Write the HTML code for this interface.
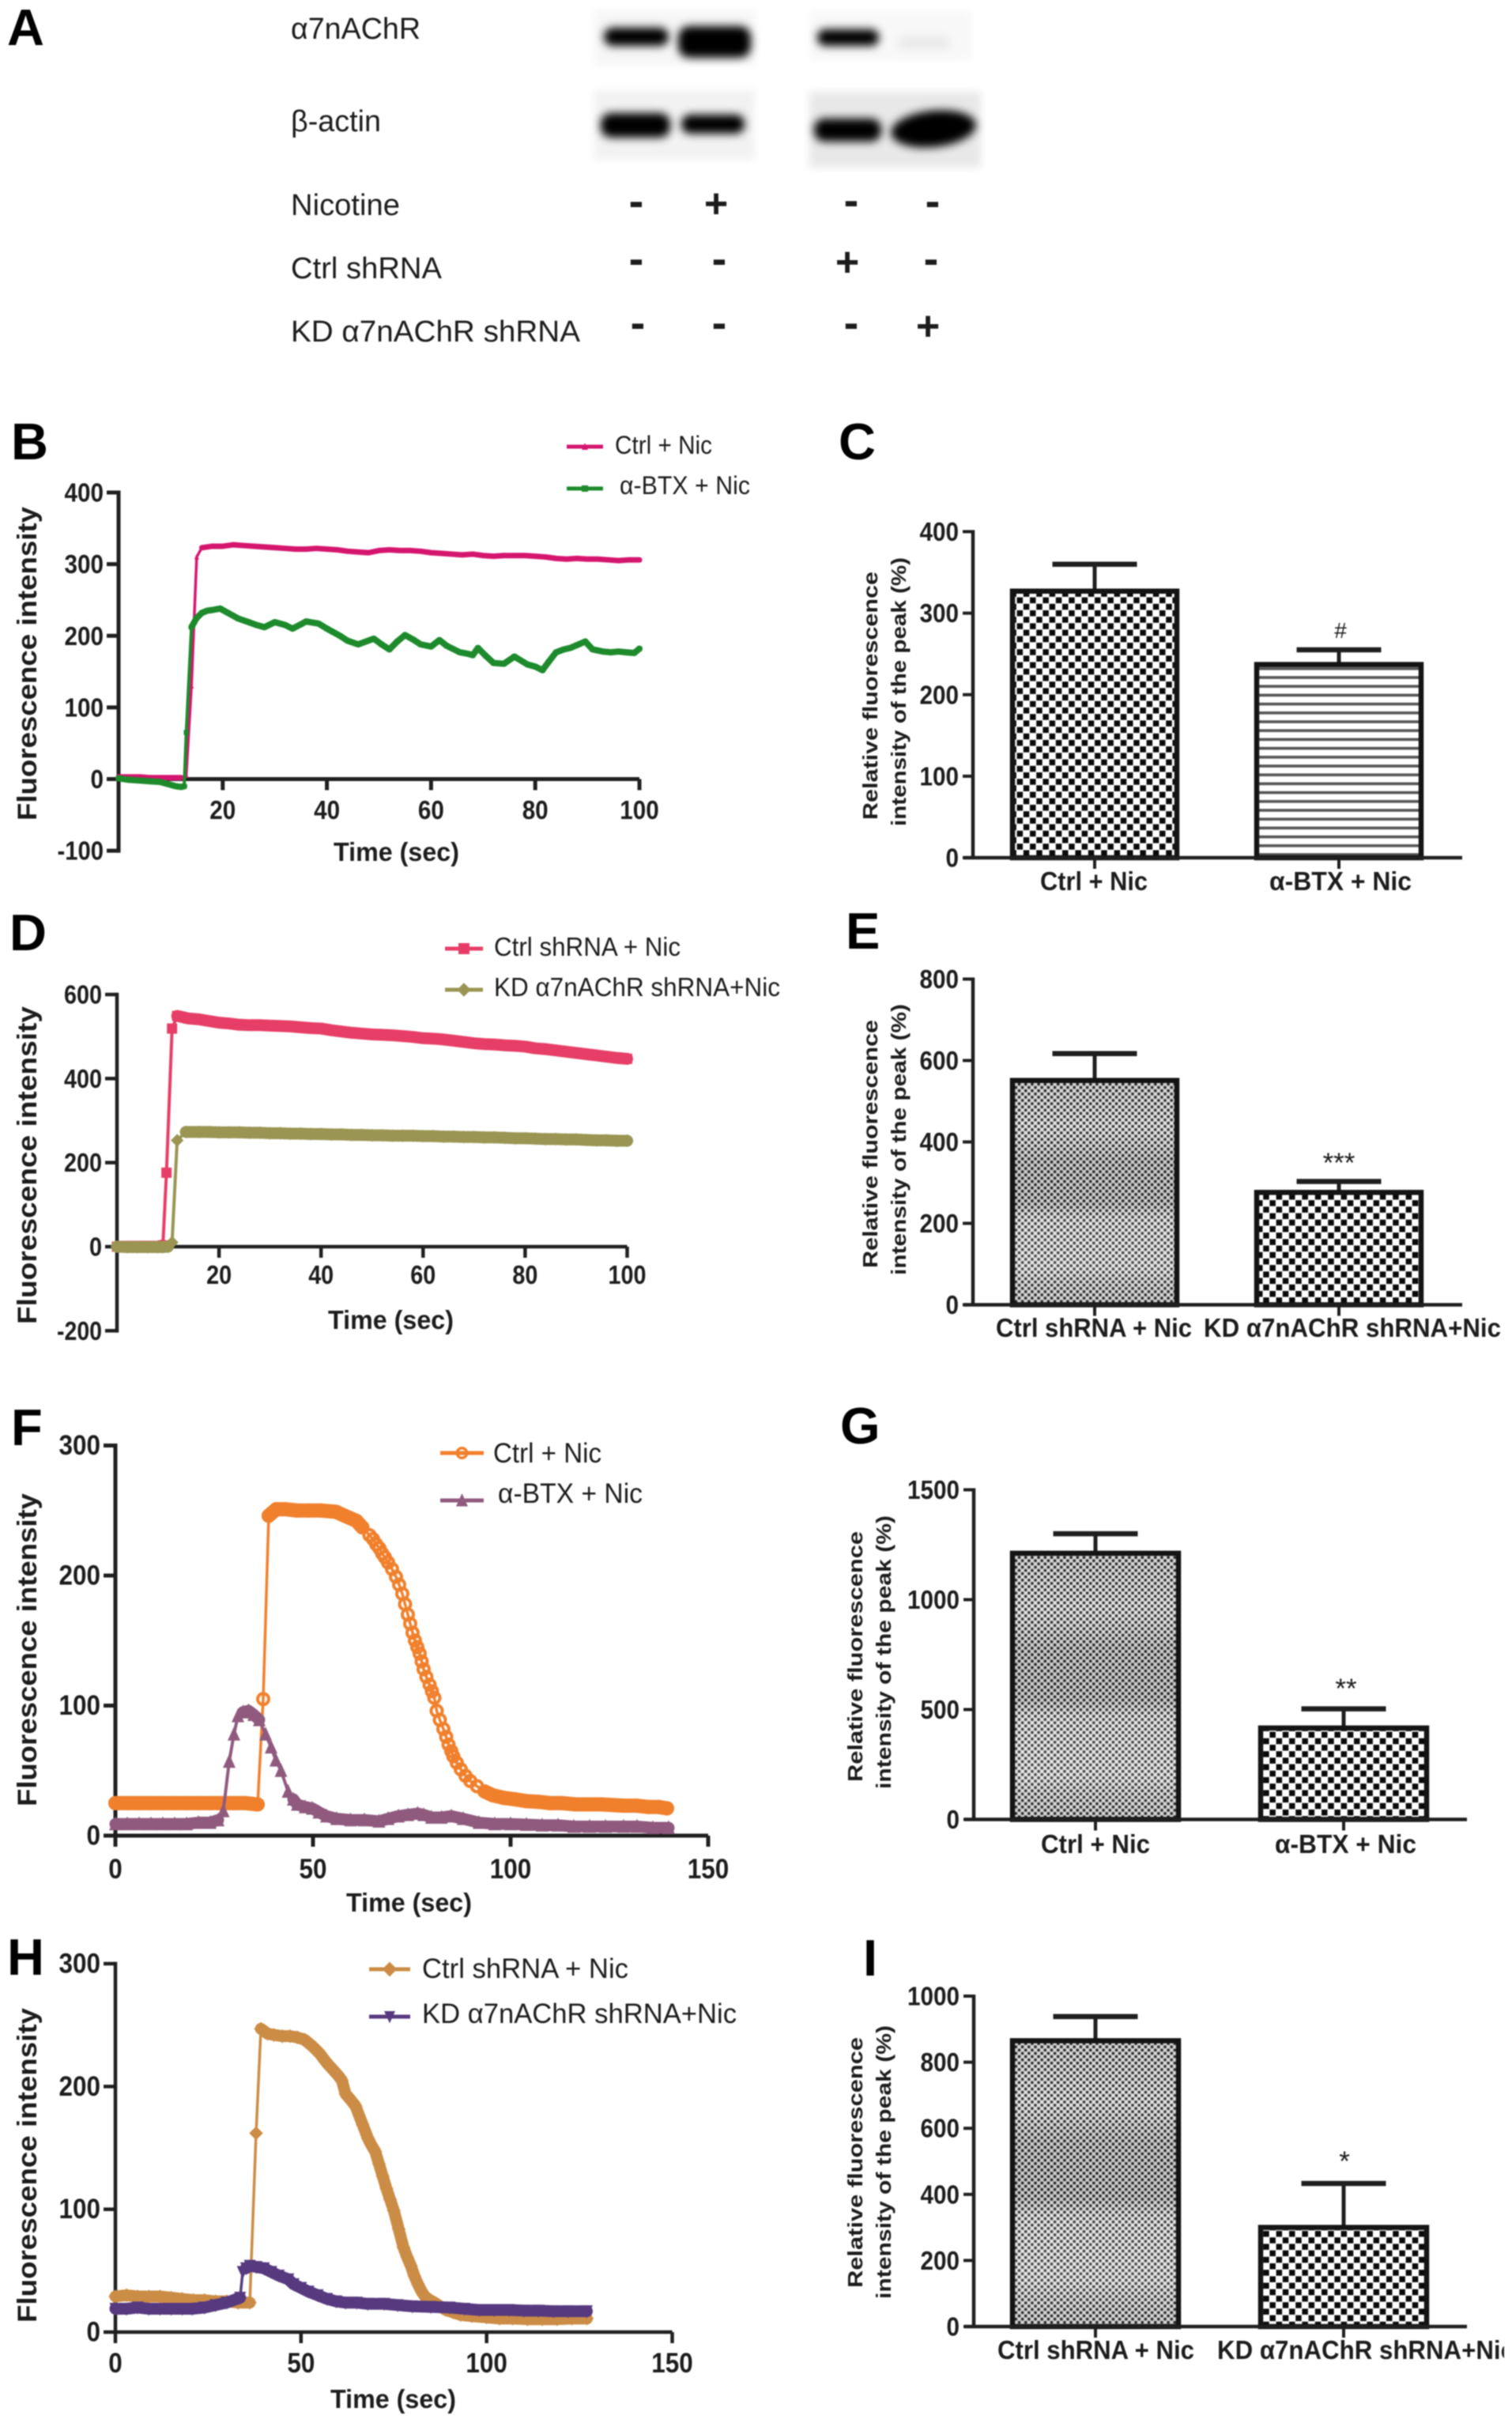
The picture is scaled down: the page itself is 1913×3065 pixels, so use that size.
<!DOCTYPE html>
<html lang="en">
<head>
<meta charset="utf-8">
<title>Fluorescence intensity figure, panels A to I</title>
<style>
html,body{margin:0;padding:0;background:#fff;}
svg{display:block;filter:blur(0.8px);}
text{font-family:"Liberation Sans","DejaVu Sans",sans-serif;fill:#1c1c1c;}
.letter{font-weight:700;font-size:65px;fill:#000;}
.wb{font-size:38px;}
</style>
</head>
<body>
<svg id="figure" xmlns="http://www.w3.org/2000/svg" width="1913" height="3065" viewBox="0 0 1913 3065">
<defs>
<filter id="bandBlur" x="-30%" y="-80%" width="160%" height="260%"><feGaussianBlur stdDeviation="5.5"/></filter>
<filter id="panelBlur" x="-10%" y="-15%" width="120%" height="130%"><feGaussianBlur stdDeviation="5"/></filter>
<pattern id="coarseCheck" patternUnits="userSpaceOnUse" width="16.4" height="16.4" x="1278" y="747">
<rect width="16.4" height="16.4" fill="#fff"/>
<rect x="0.4" y="0.4" width="7.5" height="7.5" fill="#0a0a0a"/>
<rect x="8.6" y="8.6" width="7.5" height="7.5" fill="#0a0a0a"/>
</pattern>
<pattern id="fineCheck" patternUnits="userSpaceOnUse" width="8.2" height="8.2">
<rect width="8.2" height="8.2" fill="#e0e0e0"/>
<rect x="0.4" y="0.4" width="3.4" height="3.4" fill="#2a2a2a"/>
<rect x="4.5" y="4.5" width="3.4" height="3.4" fill="#2a2a2a"/>
</pattern>
<pattern id="hLines" patternUnits="userSpaceOnUse" width="11" height="11.2">
<rect width="11" height="11.2" fill="#fff"/>
<rect y="4" width="11" height="3.6" fill="#555"/>
</pattern>
<linearGradient id="moire" x1="0" y1="0" x2="0" y2="1">
<stop offset="0" stop-color="#000" stop-opacity="0.06"/>
<stop offset="0.2" stop-color="#fff" stop-opacity="0.06"/>
<stop offset="0.35" stop-color="#000" stop-opacity="0.10"/>
<stop offset="0.55" stop-color="#000" stop-opacity="0.10"/>
<stop offset="0.62" stop-color="#fff" stop-opacity="0.10"/>
<stop offset="0.85" stop-color="#fff" stop-opacity="0.14"/>
<stop offset="1" stop-color="#000" stop-opacity="0.06"/>
</linearGradient>
<clipPath id="clipRight"><rect x="0" y="0" width="1903" height="3065"/></clipPath>
</defs>

<g id="panel-a">
<text class="letter" x="9" y="57">A</text>

<rect x="752" y="14" width="204" height="68" fill="#f6f6f6" filter="url(#panelBlur)"/>
<rect x="764" y="35" width="82" height="23" rx="11" fill="#000" filter="url(#bandBlur)"/>
<rect x="858" y="33" width="92" height="40" rx="14" fill="#000" filter="url(#bandBlur)"/>
<rect x="1025" y="14" width="204" height="62" fill="#f8f8f8" filter="url(#panelBlur)"/>
<rect x="1034" y="37" width="78" height="21" rx="10" fill="#000" filter="url(#bandBlur)"/>
<rect x="1136" y="46" width="66" height="16" rx="8" fill="#e9e9e9" filter="url(#bandBlur)"/>

<rect x="752" y="114" width="203" height="88" fill="#f2f2f2" filter="url(#panelBlur)"/>
<rect x="760" y="143" width="88" height="31" rx="13" fill="#000" filter="url(#bandBlur)"/>
<rect x="862" y="145" width="80" height="24" rx="11" fill="#000" filter="url(#bandBlur)"/>
<rect x="1024" y="116" width="217" height="96" fill="#e8e8e8" filter="url(#panelBlur)"/>
<rect x="1030" y="150" width="85" height="29" rx="13" fill="#000" filter="url(#bandBlur)"/>
<ellipse cx="1181" cy="163" rx="54" ry="23" fill="#000" transform="rotate(-6 1181 163)" filter="url(#bandBlur)"/>

<text class="wb" x="368" y="49" textLength="164" lengthAdjust="spacingAndGlyphs">α7nAChR</text>
<text class="wb" x="368" y="166" textLength="114" lengthAdjust="spacingAndGlyphs">β-actin</text>
<text class="wb" x="368" y="272" textLength="138" lengthAdjust="spacingAndGlyphs">Nicotine</text>
<text class="wb" x="368" y="352" textLength="191" lengthAdjust="spacingAndGlyphs">Ctrl shRNA</text>
<text class="wb" x="368" y="432" textLength="366" lengthAdjust="spacingAndGlyphs">KD α7nAChR shRNA</text>

<g font-weight="700" text-anchor="middle" font-size="56">
<text x="805" y="273">-</text>
<text x="906" y="275" font-size="52">+</text>
<text x="1077" y="272">-</text>
<text x="1180" y="273">-</text>
<text x="805" y="346">-</text>
<text x="910" y="346">-</text>
<text x="1072" y="349" font-size="52">+</text>
<text x="1178" y="346">-</text>
<text x="807" y="427">-</text>
<text x="910" y="427">-</text>
<text x="1077" y="427">-</text>
<text x="1174" y="430" font-size="52">+</text>
</g>
</g>

<text class="letter" x="14" y="581">B</text>
<text class="letter" x="1061" y="581">C</text>
<text class="letter" x="12" y="1202">D</text>
<text class="letter" x="1070" y="1200">E</text>
<text class="letter" x="14" y="1828">F</text>
<text class="letter" x="1063" y="1826">G</text>
<text class="letter" x="9" y="2498">H</text>
<text class="letter" x="1092" y="2499">I</text>

<g id="charts"></g>
</svg>

<script>
// ---------- Panel B ----------
const bXTicks = [20, 40, 60, 80, 100];
const bYTicks = [-100, 0, 100, 200, 300, 400];
const bCtrlTime = [0,2,4,6,8,10,12,13,14,15,16,18,20,22,24,26,28,30,32,34,36,38,40,42,44,46,48,50,52,54,56,58,60,62,64,66,68,70,72,74,76,78,80,82,84,86,88,90,92,94,96,98,100];
const bCtrlValues = [3,3,3,2,2,2,2,5,130,310,323,325,325,327,326,325,324,323,322,321,321,322,321,320,318,317,316,319,320,319,319,318,316,315,314,313,314,312,311,312,312,312,311,310,308,307,308,307,307,306,305,306,306];
const bBtxTime = [0,2,4,6,8,10,11,12,12.6,13,14,15,16,17,18,19.5,21,23,25,26.5,28,30,32,33.4,35,36,38.4,40,41,42.5,44,46,47.5,49,50.5,52,53.5,55,56.5,58,60,61.6,63,65.5,67,68,69,70.5,72,74,76,78.5,80,81.4,82.5,84,85.5,86.7,88,89.6,91,93,94.5,96,97.4,99,100];
const bBtxValues = [1,-1,-2,-3,-4,-8,-10,-11,-10,65,212,225,232,235,236,238,232,224,219,215,212,219,215,210,216,220,217,210,206,200,193,188,192,196,188,181,192,201,195,188,185,194,186,177,175,173,183,172,162,161,171,160,157,152,163,177,181,183,187,192,181,178,177,178,177,176,182];

// ---------- Panel C ----------
const cCategories = ["Ctrl + Nic", "α-BTX + Nic"];
const cMeans = [327, 237];
const cErrors = [33, 18];
const cYTicks = [0, 100, 200, 300, 400];

// ---------- Panel D ----------
const dXTicks = [20, 40, 60, 80, 100];
const dYTicks = [-200, 0, 200, 400, 600];
const dCtrlTime = [0,2,4,6,8,9,9.7,10.8,11.8,14,16,18,20,22,24,26,28,30,32,34,36,38,40,42,44,46,48,50,52,54,56,58,60,62,64,66,68,70,72,74,76,78,80,82,84,86,88,90,92,94,96,98,100];
const dCtrlValues = [0,0,0,0,0,3,176,519,549,543,541,537,533,531,528,527,527,526,525,524,522,520,519,515,512,509,507,505,504,503,501,499,496,495,493,490,487,484,482,481,479,478,476,472,470,467,464,461,458,455,452,449,447];
const dKdTime = [0,2,4,6,8,9,10,10.8,11.8,13.5,16,18,20,22,24,26,28,30,32,34,36,38,40,42,44,46,48,50,52,54,56,58,60,62,64,66,68,70,72,74,76,78,80,82,84,86,88,90,92,94,96,98,100];
const dKdValues = [0,-1,-1,-1,-1,-1,0,10,253,273,273,273,272,272,272,271,271,270,270,269,269,268,268,267,267,266,266,265,265,264,264,264,263,263,262,262,261,261,260,260,259,258,258,257,256,256,255,255,254,253,253,252,252];

// ---------- Panel E ----------
const eCategories = ["Ctrl shRNA + Nic", "KD α7nAChR shRNA+Nic"];
const eMeans = [551, 276];
const eErrors = [66, 27];
const eYTicks = [0, 200, 400, 600, 800];

// ---------- Panel F ----------
const fXTicks = [0, 50, 100, 150];
const fYTicks = [0, 100, 200, 300];
const fCtrlTime = [0,3,6,9,12,15,18,21,24,27,30,33,36,37.4,38.8,40.7,43,46,49,52,55.8,58,61,62.5,64.3,65.2,66,66.8,67.5,68.2,69,70,71,71.8,72.6,73.3,74,74.6,75.2,75.8,76.4,77,77.5,78,78.7,79.5,80.1,80.7,81.3,82.1,83,83.7,84.3,85,85.5,86.4,87.4,88.6,89.8,91.5,93.4,95.5,98.3,101,104,107,110,113,116.5,120,123,126,128.6,132,135,137.5,139.6];
const fCtrlValues = [25,25,25,25,25,25,25,25,25,25,25,25,24,105,246,251,251,250,250,250,249,246,242,237,231,228,224,221,217,214,210,205,199,193,186,178,170,163,156,150,145,140,134,128,122,116,111,106,96,89,82,76,70,65,61,56,51,46,42,38,34,31,29,28,26.5,26,25,25,24,24,24,23.5,23,23,22,22,21];
const fBtxTime = [0,3,6,9,12,15,18,21,24,26,27.3,28.8,30,31,32.3,33.7,35,36.4,38,39.4,40.6,41.9,43.7,45,46,48,49.8,51.5,53.4,56,59.5,63,66.7,69,71.6,74,76.5,78,80,82.5,85,88,92,96,100,104,108,112,116,120,124,128.6,132,136,140];
const fBtxValues = [9,9,9,9,9,9,9,10,10,12,19,57,78,92,95,96,93,89,78,68,58,50,34,28,24,22,21,18,15,13,12,12,11,13,15,16,17,16,14,14,15,13,10,9,9,8.5,8,8,7,7,7,7,7,6,6];

// ---------- Panel G ----------
const gCategories = ["Ctrl + Nic", "α-BTX + Nic"];
const gMeans = [1211, 416];
const gErrors = [89, 87];
const gYTicks = [0, 500, 1000, 1500];

// ---------- Panel H ----------
const hXTicks = [0, 50, 100, 150];
const hYTicks = [0, 100, 200, 300];
const hCtrlTime = [0,3,6,9,12,15,18,21,24,27,30,33,36.2,37.9,39.2,41,42.7,45,47,49,51,53,55,57,58.5,60,61,62,63.4,64.7,66.6,68,69,70,71,72,73,74,75,76.3,77.6,78.6,79.6,80.5,81.5,82.5,83.4,84.7,86,87.5,89,91,93,96,100,103.5,107,111,115,119,123,127];
const hCtrlValues = [29,30,29,29,29,28,27,26,26,25,25,24,24,162,247,243,242,241,241,240,238,233,227,219,214,209,205,194,189,184,169,158,152,147,137,127,117,108,99,84,69,61,54,46,39,33,29,26,24,21,18,16,14,13,12,11,11,10.5,10.5,10.5,11,11];
const hKdTime = [0,3,6,9,12,15,18,20.7,24,27,30,33.6,34.3,35.2,36.2,38,40,42,44,46.6,48,50,52,54.5,57,59.5,62,65,68,72.4,76,80,85,90,94,98,102,106,110,114,118,122,127];
const hKdValues = [19,19,20,19,19,19,19,19,20,22,24,28,49,52,54,53,52,49,46,43,39,36,33,30,27,25,24,24,23,23,22,21,20.5,20,19,18,18,18,17.5,17.5,17,17,17];

// ---------- Panel I ----------
const iCategories = ["Ctrl shRNA + Nic", "KD α7nAChR shRNA+Nic"];
const iMeans = [865, 300];
const iErrors = [73, 133];
const iYTicks = [0, 200, 400, 600, 800, 1000];

const NS = "http://www.w3.org/2000/svg";
const root = document.getElementById("charts");
const INK = "#1f1f1f";

function mk(parent, tag, attrs) {
  const el = document.createElementNS(NS, tag);
  for (const k in attrs) el.setAttribute(k, attrs[k]);
  parent.appendChild(el);
  return el;
}
function label(parent, x, y, str, fs, weight, anchor, len, rotate) {
  const el = mk(parent, "text", {x: x, y: y, "font-size": fs, "font-weight": weight, "text-anchor": anchor});
  if (len) {
    el.setAttribute("textLength", len);
    el.setAttribute("lengthAdjust", "spacingAndGlyphs");
  }
  if (rotate) el.setAttribute("transform", "rotate(-90 " + x + " " + y + ")");
  el.textContent = str;
  return el;
}
function tickWidth(str, charW) {
  return str.replace("-", "").length * charW + (str.indexOf("-") >= 0 ? 9 : 0);
}
function scale(d0, d1, r0, r1) {
  return function (v) { return r0 + (v - d0) * (r1 - r0) / (d1 - d0); };
}
function polyPoints(cx, cy, pts) {
  return pts.map(function (p) { return (cx + p[0]) + "," + (cy + p[1]); }).join(" ");
}
function marker(parent, kind, cx, cy, s, color) {
  let el;
  if (kind === "ring") {
    el = mk(parent, "circle", {cx: cx, cy: cy, r: s * 0.78, fill: "none", stroke: color, "stroke-width": s * 0.44});
  } else if (kind === "square") {
    el = mk(parent, "rect", {x: cx - s, y: cy - s, width: s * 2, height: s * 2, fill: color});
  } else if (kind === "diamond") {
    el = mk(parent, "polygon", {points: polyPoints(cx, cy, [[0, -s * 1.25], [s * 1.25, 0], [0, s * 1.25], [-s * 1.25, 0]]), fill: color});
  } else if (kind === "tri") {
    el = mk(parent, "polygon", {points: polyPoints(cx, cy, [[0, -s * 1.2], [s, s], [-s, s]]), fill: color});
  } else {
    el = mk(parent, "polygon", {points: polyPoints(cx, cy, [[-s, -s], [s, -s], [0, s * 1.2]]), fill: color});
  }
  return el;
}

function lineChart(o) {
  const g = mk(root, "g", {});
  
  
  const X = scale(0, o.xMax, o.x0, o.x1);
  const Y = scale(o.yA, o.yB, o.pyA, o.pyB);
  const yMin = o.yTicks[0], yMax = o.yTicks[o.yTicks.length - 1];

  const xAxis = mk(g, "line", {x1: o.x0, x2: X(o.xTicks[o.xTicks.length - 1]), y1: Y(0), y2: Y(0), stroke: INK, "stroke-width": o.axisW});
  
  
  const yAxis = mk(g, "line", {x1: o.x0, x2: o.x0, y1: Y(yMin) + o.axisW / 2, y2: Y(yMax) - o.axisW / 2, stroke: INK, "stroke-width": o.axisW});
  
  

  o.xTicks.forEach(function (t) {
    const tick = mk(g, "line", {x1: X(t), x2: X(t), y1: Y(0), y2: Y(0) + 14, stroke: INK, "stroke-width": o.axisW});
    
    
    const tl = label(g, X(t), o.xLabelY, String(t), o.tickFs, 700, "middle", tickWidth(String(t), o.charW));
    
    
  });
  o.yTicks.forEach(function (v) {
    const tick = mk(g, "line", {x1: o.x0 - 15, x2: o.x0, y1: Y(v), y2: Y(v), stroke: INK, "stroke-width": o.axisW});
    
    
    const tl = label(g, o.x0 - 19, Y(v) + 11.5, String(v), o.tickFs, 700, "end", tickWidth(String(v), o.charW));
    
    
  });

  const xt = label(g, o.xTitle.x, o.xTitle.y, "Time (sec)", 33, 700, "start", o.xTitle.len);
  
  
  const yt = label(g, o.yTitle.x, o.yTitle.y, "Fluorescence intensity", 34, 700, "start", o.yTitle.len, true);
  
  

  o.series.forEach(function (s) {
    const sg = mk(g, "g", {});
    
    
    const pts = s.time.map(function (t, i) { return X(t) + "," + Y(s.values[i]); }).join(" ");
    const line = mk(sg, "polyline", {points: pts, fill: "none", stroke: s.color, "stroke-width": s.lineW, "stroke-linejoin": "round"});
    
    
    s.bands.forEach(function (range) {
      const seg = [];
      s.time.forEach(function (t, i) {
        if (t >= range[0] && t <= range[1]) seg.push(X(t) + "," + Y(s.values[i]));
      });
      const band = mk(sg, "polyline", {points: seg.join(" "), fill: "none", stroke: s.color, "stroke-width": s.bandW, "stroke-linejoin": "round", "stroke-linecap": "round"});
      
      
    });
    s.time.forEach(function (t, i) {
      const m = marker(sg, s.kind, X(t), Y(s.values[i]), s.size, s.color);
      
      
    });
    const leg = mk(g, "g", {});
    
    
    const ll = mk(leg, "line", {x1: s.legend.x1, x2: s.legend.x2, y1: s.legend.y, y2: s.legend.y, stroke: s.color, "stroke-width": s.legend.w});
    
    
    const lm = marker(leg, s.kind, (s.legend.x1 + s.legend.x2) / 2, s.legend.y, s.legend.ms, s.color);
    
    
    const lt = label(leg, s.legend.tx, s.legend.ty, s.label, s.legend.fs, 400, "start", s.legend.len);
    
    
  });
}

function barChart(o) {
  const g = mk(root, "g", {});
  
  
  const Y = scale(0, o.yTicks[o.yTicks.length - 1], o.py0, o.pyTop);
  const XB = function (i) { return o.c0 + i * o.step; };

  o.means.forEach(function (m, i) {
    const top = Y(m);
    const cap = Y(m + o.errors[i]);
    const stem = mk(g, "line", {x1: XB(i), x2: XB(i), y1: top, y2: cap, stroke: INK, "stroke-width": 5});
    
    
    const capLine = mk(g, "line", {x1: XB(i) - 53.5, x2: XB(i) + 53.5, y1: cap, y2: cap, stroke: INK, "stroke-width": 6.5});
    
    
    const attrs = {x: XB(i) - o.half, y: top, width: o.half * 2, height: Y(0) - top, fill: "url(#" + o.fills[i] + ")", stroke: "#141414", "stroke-width": 6.5};
    const bar = mk(g, "rect", attrs);
    
    
    if (o.fills[i] === "fineCheck") {
      const band = mk(g, "rect", {x: XB(i) - o.half + 3, y: top + 3, width: o.half * 2 - 6, height: Y(0) - top - 6, fill: "url(#moire)"});
      
      
    }
    const tick = mk(g, "line", {x1: XB(i), x2: XB(i), y1: Y(0), y2: Y(0) + 14, stroke: INK, "stroke-width": 4});
    
    
    const tl = label(g, o.catLabels[i].x, o.catY, o.categories[i], 33, 700, "start", o.catLabels[i].len);
    if (o.clipKd && i === 1) tl.setAttribute("clip-path", "url(#clipRight)");
    
    
  });

  const xAxis = mk(g, "line", {x1: o.axisX - 12, x2: o.axisEnd, y1: Y(0), y2: Y(0), stroke: INK, "stroke-width": 4.5});
  
  
  const yAxis = mk(g, "line", {x1: o.axisX, x2: o.axisX, y1: Y(0), y2: o.pyTop - 2, stroke: INK, "stroke-width": 4.5});
  
  

  o.yTicks.forEach(function (v) {
    const tick = mk(g, "line", {x1: o.axisX - 13, x2: o.axisX, y1: Y(v), y2: Y(v), stroke: INK, "stroke-width": 4});
    
    
    const tl = label(g, o.axisX - 18, Y(v) + 11.5, String(v), 33, 700, "end", tickWidth(String(v), 16.5));
    
    
  });

  const t1 = label(g, o.title1.x, o.title1.y, "Relative fluorescence", 26, 700, "start", o.title1.len, true);
  
  
  const t2 = label(g, o.title2.x, o.title2.y, "intensity of the peak (%)", 26, 700, "start", o.title2.len, true);
  
  

  const mark = label(g, o.sig.x, o.sig.y, o.sig.text, o.sig.fs, 400, "middle");
  
  
}

lineChart({
  name: "chart-b", xMax: 100, x0: 150, x1: 809, yA: 0, yB: 400, pyA: 985.5, pyB: 623, axisW: 5, tickFs: 33, charW: 16.5,
  xTicks: bXTicks, yTicks: bYTicks, xLabelY: 1036,
  xTitle: {x: 422, y: 1089, len: 159}, yTitle: {x: 46, y: 1038, len: 397},
  series: [
    {key: "ctrl-nic", label: "Ctrl + Nic", time: bCtrlTime, values: bCtrlValues, color: "#d5166f", lineW: 3.5, kind: "tri", size: 3, bands: [[0, 12], [16, 100]], bandW: 7,
     legend: {x1: 717, x2: 763, y: 565, w: 5, ms: 4, tx: 778, ty: 574, fs: 32, len: 123}},
    {key: "btx-nic", label: "α-BTX + Nic", time: bBtxTime, values: bBtxValues, color: "#1d8a2c", lineW: 4, kind: "square", size: 3.2, bands: [[0, 12.6], [14, 100]], bandW: 8,
     legend: {x1: 717, x2: 763, y: 618, w: 5, ms: 4, tx: 784, ty: 625, fs: 32, len: 165}}
  ]
});

barChart({
  name: "chart-c", categories: cCategories, means: cMeans, errors: cErrors, yTicks: cYTicks,
  py0: 1085, pyTop: 672.5, axisX: 1231, axisEnd: 1850, c0: 1385, step: 309, half: 104,
  fills: ["coarseCheck", "hLines"], catY: 1126,
  catLabels: [{x: 1316, len: 136}, {x: 1606, len: 180}],
  title1: {x: 1110, y: 1037, len: 314}, title2: {x: 1146, y: 1045, len: 340},
  sig: {text: "#", x: 1696, y: 807, fs: 28}
});

lineChart({
  name: "chart-d", xMax: 100, x0: 148, x1: 793.5, yA: 0, yB: 600, pyA: 1577, pyB: 1258, axisW: 4.5, tickFs: 33, charW: 16,
  xTicks: dXTicks, yTicks: dYTicks, xLabelY: 1624,
  xTitle: {x: 415, y: 1681, len: 159}, yTitle: {x: 46, y: 1675, len: 402},
  series: [
    {key: "ctrl-shrna-nic", label: "Ctrl shRNA + Nic", time: dCtrlTime, values: dCtrlValues, color: "#e63e66", lineW: 4, kind: "square", size: 6.5, bands: [[0, 9], [11.8, 100]], bandW: 15,
     legend: {x1: 563, x2: 611, y: 1200, w: 5, ms: 7, tx: 625, ty: 1209, fs: 33, len: 236}},
    {key: "kd-shrna-nic", label: "KD α7nAChR shRNA+Nic", time: dKdTime, values: dKdValues, color: "#9a9553", lineW: 4, kind: "diamond", size: 6.5, bands: [[0, 10], [13.5, 100]], bandW: 15,
     legend: {x1: 563, x2: 611, y: 1252, w: 5, ms: 7, tx: 625, ty: 1260, fs: 33, len: 362}}
  ]
});

barChart({
  name: "chart-e", categories: eCategories, means: eMeans, errors: eErrors, yTicks: eYTicks,
  py0: 1650.5, pyTop: 1238.5, axisX: 1231, axisEnd: 1850, c0: 1385, step: 309, half: 104,
  fills: ["fineCheck", "coarseCheck"], catY: 1691,
  catLabels: [{x: 1260, len: 248}, {x: 1523, len: 376}],
  title1: {x: 1110, y: 1604, len: 314}, title2: {x: 1146, y: 1613, len: 343},
  sig: {text: "***", x: 1694, y: 1483, fs: 35}
});

lineChart({
  name: "chart-f", xMax: 150, x0: 146, x1: 896, yA: 0, yB: 300, pyA: 2322, pyB: 1828.5, axisW: 5, tickFs: 35, charW: 17.5,
  xTicks: fXTicks, yTicks: fYTicks, xLabelY: 2376,
  xTitle: {x: 438, y: 2418, len: 159}, yTitle: {x: 46, y: 2285, len: 396},
  series: [
    {key: "ctrl-nic", label: "Ctrl + Nic", time: fCtrlTime, values: fCtrlValues, color: "#f0802c", lineW: 3.5, kind: "ring", size: 9, bands: [[0, 36], [38.8, 63], [92, 140]], bandW: 18,
     legend: {x1: 557, x2: 612, y: 1838, w: 5, ms: 8, tx: 624, ty: 1850, fs: 35, len: 137}},
    {key: "btx-nic", label: "α-BTX + Nic", time: fBtxTime, values: fBtxValues, color: "#8f5a7e", lineW: 4, kind: "tri", size: 8, bands: [[0, 26], [32, 37], [45, 140]], bandW: 15,
     legend: {x1: 557, x2: 612, y: 1898, w: 5, ms: 7.5, tx: 630, ty: 1901, fs: 35, len: 183}}
  ]
});

barChart({
  name: "chart-g", categories: gCategories, means: gMeans, errors: gErrors, yTicks: gYTicks,
  py0: 2301.5, pyTop: 1884.5, axisX: 1232, axisEnd: 1856, c0: 1386, step: 314, half: 105,
  fills: ["fineCheck", "coarseCheck"], catY: 2344,
  catLabels: [{x: 1317, len: 138}, {x: 1613, len: 179}],
  title1: {x: 1091, y: 2254, len: 317}, title2: {x: 1127, y: 2263, len: 346},
  sig: {text: "**", x: 1703, y: 2148, fs: 35}
});

lineChart({
  name: "chart-h", xMax: 150, x0: 146, x1: 850.5, yA: 0, yB: 300, pyA: 2950, pyB: 2484, axisW: 4.5, tickFs: 35, charW: 17.5,
  xTicks: hXTicks, yTicks: hYTicks, xLabelY: 3001,
  xTitle: {x: 418, y: 3046, len: 159}, yTitle: {x: 46, y: 2938, len: 398},
  series: [
    {key: "ctrl-shrna-nic", label: "Ctrl shRNA + Nic", time: hCtrlTime, values: hCtrlValues, color: "#cb8c45", lineW: 3.5, kind: "diamond", size: 7, bands: [[0, 36.2], [39.2, 127]], bandW: 15,
     legend: {x1: 467, x2: 519, y: 2491, w: 5, ms: 7.5, tx: 534, ty: 2502, fs: 35, len: 261}},
    {key: "kd-shrna-nic", label: "KD α7nAChR shRNA+Nic", time: hKdTime, values: hKdValues, color: "#56397f", lineW: 3.5, kind: "triDown", size: 7.5, bands: [[0, 33.6], [35.2, 127]], bandW: 15,
     legend: {x1: 467, x2: 519, y: 2551, w: 5, ms: 7, tx: 534, ty: 2559, fs: 35, len: 398}}
  ]
});

barChart({
  name: "chart-i", categories: iCategories, means: iMeans, errors: iErrors, yTicks: iYTicks,
  py0: 2943, pyTop: 2525, axisX: 1232, axisEnd: 1856, c0: 1386, step: 314, half: 105,
  fills: ["fineCheck", "coarseCheck"], catY: 2984, clipKd: true,
  catLabels: [{x: 1262, len: 249}, {x: 1540, len: 376}],
  title1: {x: 1091, y: 2894, len: 317}, title2: {x: 1127, y: 2908, len: 346},
  sig: {text: "*", x: 1701, y: 2746, fs: 35}
});
</script>
</body>
</html>
